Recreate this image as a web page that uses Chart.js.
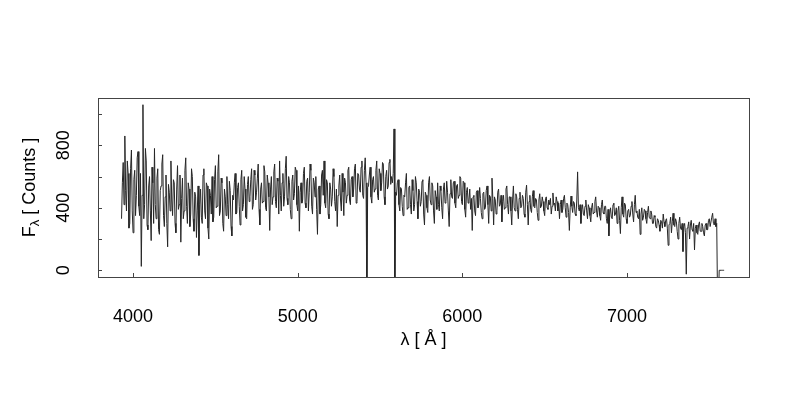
<!DOCTYPE html>
<html>
<head>
<meta charset="utf-8">
<title>Spectrum</title>
<script src="https://cdn.jsdelivr.net/npm/chart.js@4/dist/chart.umd.min.js"></script>
<style>
  html, body { margin: 0; padding: 0; background: #ffffff; }
  #wrap { width: 800px; height: 400px; }
</style>
</head>
<body>
<div id="wrap"><canvas id="spec" width="800" height="400"></canvas></div>
<script>
// wavelength grid of the extracted spectrum (Angstrom)
const lambdaStart = 3930;
const lambdaStep = 5;

// flux in counts, one row = 100 A
const flux = [
  330, 560, 690, 420, 860, 510, 380, 700, 620, 270, 300, 650, 770, 380, 240, 580, 640, 350, 480, 720,   // 3930
  760, 410, 350, 620, 25, 480, 1060, 330, 420, 780, 700, 290, 260, 540, 600, 380, 190, 660, 560, 300,   // 4030
  780, 420, 330, 590, 650, 260, 230, 510, 540, 680, 740, 350, 280, 470, 610, 300, 150, 550, 500, 380,   // 4130
  700, 450, 350, 580, 560, 300, 240, 520, 670, 390, 420, 610, 180, 460, 590, 330, 380, 640, 720, 410,   // 4230
  300, 560, 520, 280, 360, 650, 600, 330, 250, 500, 470, 210, 380, 540, 95, 420, 520, 340, 300, 610,    // 4330
  650, 380, 330, 560, 540, 270, 200, 520, 480, 360, 600, 310, 340, 580, 670, 400, 410, 630, 740, 350,   // 4430
  380, 590, 560, 300, 250, 520, 470, 350, 600, 420, 330, 570, 510, 280, 220, 480, 450, 560, 620, 360,   // 4530
  370, 530, 560, 410, 290, 580, 640, 380, 420, 600, 520, 340, 330, 550, 600, 440, 470, 580, 650, 390,   // 4630
  420, 640, 610, 450, 500, 590, 680, 390, 290, 520, 560, 430, 440, 670, 630, 400, 380, 610, 560, 470,   // 4730
  255, 520, 600, 420, 470, 630, 680, 440, 400, 590, 570, 360, 700, 480, 380, 560, 620, 410, 470, 650,   // 4830
  730, 460, 420, 600, 560, 390, 330, 570, 610, 450, 490, 660, 640, 420, 380, 540, 250, 500, 560, 430,   // 4930
  450, 620, 660, 430, 400, 570, 590, 380, 500, 680, 640, 410, 360, 590, 560, 470, 600, 390, 230, 520,   // 5030
  540, 360, 420, 610, 640, 480, 700, 430, 400, 580, 560, 360, 330, 560, 520, 410, 470, 650, 600, 440,   // 5130
  380, 520, 280, 480, 540, 610, 450, 380, 620, 500, 350, 590, 560, 430, 480, 640, 660, 450, 420, 580,   // 5230
  600, 470, 520, 650, 680, 430, 440, 620, 610, 520, 500, 660, 700, 480, 460, 640, 720, 560, -200, 530,  // 5330
  540, 610, 660, 470, 430, 580, 600, 500, 520, 640, 700, 480, 450, 650, 620, 510, 560, 690, 680, 470,   // 5430
  420, 600, 640, 520, 540, 690, 710, 550, 600, 560, 620, 905, -200, 500, 480, 560, 580, 420, 380, 530,  // 5530
  520, 410, 350, 480, 470, 560, 620, 390, 400, 530, 540, 420, 360, 580, 510, 380, 420, 600, 560, 440,   // 5630
  330, 520, 500, 410, 440, 570, 580, 360, 290, 500, 480, 400, 370, 560, 600, 450, 420, 560, 540, 380,   // 5730
  300, 510, 470, 390, 560, 420, 380, 540, 510, 400, 330, 520, 560, 430, 440, 570, 500, 380, 280, 490,   // 5830
  580, 470, 460, 560, 570, 430, 400, 540, 550, 460, 480, 600, 590, 440, 420, 570, 560, 390, 340, 500,   // 5930
  530, 430, 450, 520, 390, 460, 255, 470, 480, 380, 350, 500, 510, 400, 420, 530, 460, 370, 330, 490,   // 6030
  500, 390, 400, 510, 540, 420, 300, 480, 470, 380, 590, 460, 290, 470, 450, 360, 380, 500, 520, 410,   // 6130
  420, 480, 310, 440, 480, 390, 400, 520, 540, 420, 360, 470, 470, 380, 290, 450, 540, 400, 380, 490,   // 6230
  470, 390, 330, 460, 500, 400, 410, 480, 460, 360, 340, 500, 545, 420, 290, 440, 480, 390, 370, 470,   // 6330
  510, 410, 400, 460, 450, 370, 320, 450, 490, 400, 410, 470, 440, 380, 350, 460, 470, 400, 390, 450,   // 6430
  420, 460, 360, 410, 495, 420, 430, 380, 470, 440, 380, 430, 330, 420, 450, 370, 390, 460, 480, 400,   // 6530
  340, 430, 420, 370, 255, 400, 475, 410, 370, 440, 430, 360, 350, 450, 630, 400, 380, 420, 300, 390,   // 6630
  420, 360, 350, 410, 450, 380, 330, 420, 400, 350, 310, 400, 430, 360, 370, 440, 470, 380, 340, 410,   // 6730
  400, 350, 320, 420, 450, 370, 360, 410, 410, 330, 300, 390, 220, 360, 400, 340, 330, 420, 430, 350,   // 6830
  360, 400, 300, 380, 410, 320, 235, 400, 470, 360, 340, 430, 420, 330, 300, 380, 390, 340, 350, 410,   // 6930
  440, 360, 310, 420, 480, 370, 380, 340, 330, 390, 230, 360, 400, 320, 340, 390, 380, 330, 300, 370,   // 7030
  410, 340, 330, 380, 360, 300, 300, 350, 340, 280, 270, 330, 320, 290, 250, 320, 310, 270, 360, 310,   // 7130
  280, 320, 330, 270, 160, 290, 300, 340, 240, 310, 365, 290, 280, 330, 310, 250, 200, 300, 340, 270,   // 7230
  260, 300, 120, 280, 300, 240, -25, 270, 280, 310, 200, 290, 320, 260, 250, 300, 130, 270, 290, 240,   // 7330
  230, 290, 310, 250, 250, 300, 280, 240, 220, 290, 300, 260, 260, 320, 330, 280, 280, 340, 365, 300,   // 7430
  290, 330, 280, 300, -200, -200, 0, 0, 0, 0, 0, 0, 0, 0                                                 // 7530
];

const xTicks = [4000, 5000, 6000, 7000];
const yTicks = [0, 200, 400, 600, 800, 1000];
const yLabels = [0, 400, 800];

const xTitle = 'λ [ Å ]';
const yTitleMain = 'F';
const yTitleSub = 'λ';
const yTitleRest = ' [ Counts ]';

const FONT = '"Liberation Sans", Arial, sans-serif';

function buildPoints() {
  return flux.map((f, i) => ({ x: lambdaStart + i * lambdaStep, y: f }));
}

// R style box, inward ticks and rotated y labels
const baseGraphics = {
  id: 'baseGraphics',
  afterDraw(chart) {
    const ctx = chart.ctx;
    const a = chart.chartArea;
    const xs = chart.scales.x;
    const ys = chart.scales.y;
    ctx.save();
    ctx.strokeStyle = '#444';
    ctx.lineWidth = 1;
    ctx.strokeRect(Math.round(a.left) + 0.5, Math.round(a.top) + 0.5,
      Math.round(a.right - a.left), Math.round(a.bottom - a.top));

    ctx.beginPath();
    xTicks.forEach(v => {
      const px = Math.round(xs.getPixelForValue(v)) + 0.5;
      ctx.moveTo(px, a.bottom);
      ctx.lineTo(px, a.bottom - 4);
    });
    yTicks.forEach(v => {
      const py = Math.round(ys.getPixelForValue(v)) + 0.5;
      ctx.moveTo(a.left, py);
      ctx.lineTo(a.left + 4, py);
    });
    ctx.stroke();

    ctx.fillStyle = '#000';
    ctx.font = '18px ' + FONT;
    ctx.textAlign = 'center';
    ctx.textBaseline = 'middle';
    xTicks.forEach(v => {
      ctx.fillText(String(v), xs.getPixelForValue(v), 317);
    });
    ctx.fillText(xTitle, (a.left + a.right) / 2, 340);

    yLabels.forEach(v => {
      ctx.save();
      ctx.translate(64, ys.getPixelForValue(v));
      ctx.rotate(-Math.PI / 2);
      ctx.fillText(String(v), 0, 0);
      ctx.restore();
    });

    // y title with subscript lambda
    ctx.save();
    ctx.translate(30, (a.top + a.bottom) / 2);
    ctx.rotate(-Math.PI / 2);
    ctx.textAlign = 'left';
    const big = '18px ' + FONT;
    const small = '13px ' + FONT;
    ctx.font = big;
    const wMain = ctx.measureText(yTitleMain).width;
    const wRest = ctx.measureText(yTitleRest).width;
    ctx.font = small;
    const wSub = ctx.measureText(yTitleSub).width;
    let x0 = -(wMain + wSub + wRest) / 2;
    ctx.font = big;
    ctx.fillText(yTitleMain, x0, 0);
    ctx.font = small;
    ctx.fillText(yTitleSub, x0 + wMain, 5);
    ctx.font = big;
    ctx.fillText(yTitleRest, x0 + wMain + wSub, 0);
    ctx.restore();

    ctx.restore();
  }
};

function initChart(canvasId) {
  const canvas = document.getElementById(canvasId);
  if (!canvas) return null;
  return new Chart(canvas.getContext('2d'), {
    type: 'line',
    data: {
      datasets: [{
        data: buildPoints(),
        borderColor: '#262626',
        borderWidth: 1,
        pointRadius: 0,
        tension: 0,
        fill: false
      }]
    },
    options: {
      responsive: false,
      animation: false,
      layout: { padding: { left: 98, top: 98, right: 51, bottom: 123 } },
      plugins: { legend: { display: false }, tooltip: { enabled: false } },
      scales: {
        x: { type: 'linear', min: 3787, max: 7741, display: false },
        y: { type: 'linear', min: -43, max: 1103, display: false }
      }
    },
    plugins: [baseGraphics]
  });
}

let specChart = initChart('spec');
</script>
</body>
</html>
